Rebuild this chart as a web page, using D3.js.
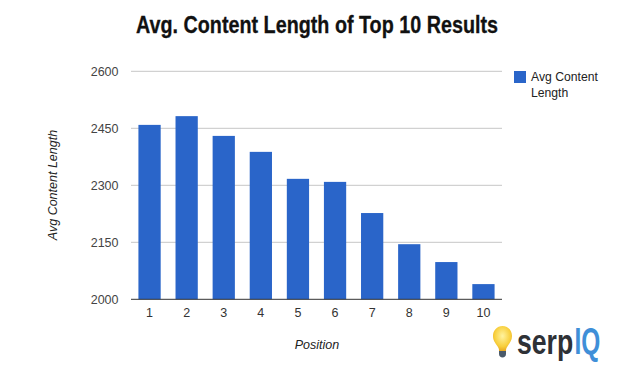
<!DOCTYPE html>
<html><head><meta charset="utf-8">
<script src="https://cdn.jsdelivr.net/npm/d3@7"></script>
<style>html,body{margin:0;padding:0;background:#fff}svg{display:block}text{font-family:Arial,"Liberation Sans",sans-serif}</style>
</head><body><svg id="c" width="635" height="370"></svg>
<script>
const categories = ["1","2","3","4","5","6","7","8","9","10"];
const values = [2459,2482,2430,2388,2317,2309,2227,2145,2098,2040];
const yTicks = [2000,2150,2300,2450,2600];
const titleText = "Avg. Content Length of Top 10 Results";
const seriesName = ["Avg Content","Length"];

const svg = d3.select("#c");
const x = d3.scaleBand().domain(categories).range([131,502]).paddingInner(0.4).paddingOuter(0.2);
const y = d3.scaleLinear().domain([2000,2600]).range([299.3,71.3]);

svg.append("text").attr("x",136).attr("y",33).attr("textLength",362).attr("lengthAdjust","spacingAndGlyphs")
  .attr("font-size",24).attr("font-weight","bold").attr("fill","#111")
  .attr("stroke","#111").attr("stroke-width",0.3).text(titleText);

svg.append("g").selectAll("line").data(yTicks.slice(1)).join("line")
  .attr("x1",131).attr("x2",502).attr("y1",d=>y(d)).attr("y2",d=>y(d))
  .attr("stroke","#c6c6c6").attr("stroke-width",1);

svg.append("g").selectAll("rect").data(values).join("rect")
  .attr("x",(d,i)=>x(categories[i])).attr("width",x.bandwidth())
  .attr("y",d=>y(d)).attr("height",d=>y(2000)-y(d)).attr("fill","#2a65c9");

svg.append("line").attr("x1",131).attr("x2",502).attr("y1",y(2000)).attr("y2",y(2000)).attr("stroke","#333").attr("stroke-width",1);

svg.append("g").selectAll("text").data(yTicks).join("text")
  .attr("x",118.500).attr("y",d=>y(d)+4.500).attr("text-anchor","end")
  .attr("font-size",12.500).attr("fill","#444").text(d=>d);

svg.append("g").selectAll("text").data(categories).join("text")
  .attr("x",d=>x(d)+x.bandwidth()/2).attr("y",317).attr("text-anchor","middle")
  .attr("font-size",12.500).attr("fill","#333").text(d=>d);

svg.append("text").attr("x",317).attr("y",349).attr("text-anchor","middle")
  .attr("font-size",12.500).attr("font-style","italic").attr("fill","#222").text("Position");
svg.append("text").attr("transform","translate(57,185) rotate(-90)").attr("text-anchor","middle")
  .attr("font-size",12.500).attr("font-style","italic").attr("fill","#222").text("Avg Content Length");

svg.append("rect").attr("x",514).attr("y",71).attr("width",12).attr("height",12).attr("fill","#2a65c9");
svg.append("g").selectAll("text").data(seriesName).join("text")
  .attr("x",531).attr("y",(d,i)=>81+i*16).attr("font-size",12.200).attr("fill","#222").text(d=>d);

// logo
const logo = svg.append("g");
const grad = svg.append("defs").append("radialGradient").attr("id","bulb").attr("cx","50%").attr("cy","40%").attr("r","60%");
grad.append("stop").attr("offset","0%").attr("stop-color","#fff3a0");
grad.append("stop").attr("offset","70%").attr("stop-color","#f8cf3c");
grad.append("stop").attr("offset","100%").attr("stop-color","#e8a820");
logo.append("path").attr("d","M502.500 326c-5.500 0-9.500 4.500-9.500 10 0 5.500 3.500 8 5.500 12 .5 1 .5 2 .5 3h7c0-1 0-2 .5-3 2-4 5.500-6.500 5.500-12 0-5.500-4-10-9.500-10z").attr("fill","url(#bulb)");
logo.append("path").attr("d","M499 351h7v3c0 2-1.500 3.500-3.500 3.500s-3.500-1.500-3.500-3.500z").attr("fill","#4a5a6a");
logo.append("text").attr("transform","translate(517,354) scale(0.74,1)").attr("font-size",36).attr("font-weight","bold").attr("fill","#2e3136").text("serp");
logo.append("text").attr("transform","translate(574.500,354) scale(0.68,1)").attr("font-size",36).attr("font-weight","bold").attr("fill","#3f8fd8").text("IQ");
</script></body></html>
